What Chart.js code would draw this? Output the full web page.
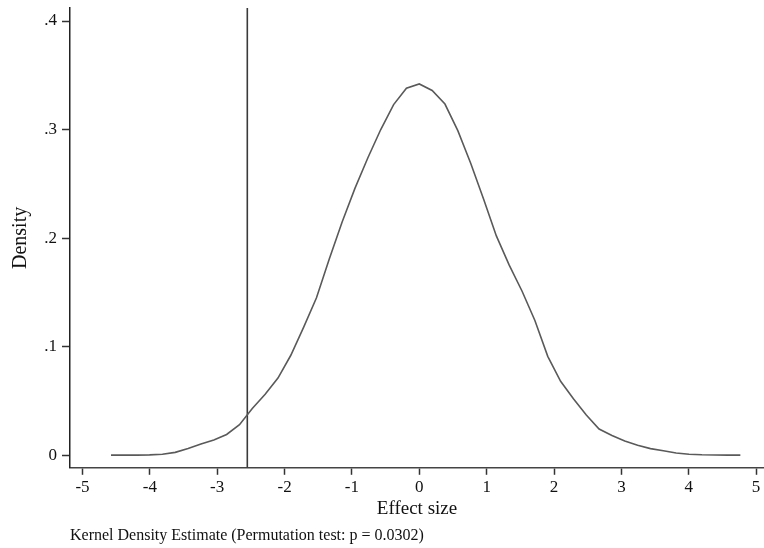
<!DOCTYPE html>
<html>
<head>
<meta charset="utf-8">
<script src="https://cdn.jsdelivr.net/npm/chart.js@4"></script>
<style>
  html, body { margin: 0; padding: 0; background: #fff; }
  #wrap { width: 764px; height: 548px; }
</style>
</head>
<body>
<div id="wrap"><canvas id="kdeChart"></canvas></div>
<script>
// grid of the kernel density estimate (effect size)
const effectSize = [
  -4.576, -4.385, -4.195, -4.004, -3.813, -3.623, -3.432, -3.241, -3.050, -2.860,
  -2.669, -2.479, -2.288, -2.098, -1.907, -1.716, -1.526, -1.335, -1.144, -0.954,
  -0.763, -0.572, -0.381, -0.191, 0.000, 0.191, 0.381, 0.572, 0.763, 0.954,
  1.144, 1.335, 1.526, 1.716, 1.907, 2.098, 2.288, 2.479, 2.669, 2.860,
  3.050, 3.241, 3.432, 3.623, 3.813, 4.004, 4.195, 4.385, 4.576, 4.766
];
const density = [
  0.0000, 0.0000, 0.0000, 0.0002, 0.0008, 0.0025, 0.0060, 0.0102, 0.0140, 0.0190,
  0.0280, 0.0430, 0.0560, 0.0710, 0.0920, 0.1180, 0.1450, 0.1810, 0.2150, 0.2460,
  0.2740, 0.3000, 0.3230, 0.3380, 0.3420, 0.3360, 0.3235, 0.2990, 0.2690, 0.2360,
  0.2020, 0.1750, 0.1510, 0.1240, 0.0910, 0.0680, 0.0520, 0.0370, 0.0240, 0.0180,
  0.0130, 0.0090, 0.0060, 0.0040, 0.0020, 0.0008, 0.0003, 0.0001, 0.0000, 0.0000
];
// observed effect (vertical line)
const observedEffect = -2.553;

const xTicks = [-5, -4, -3, -2, -1, 0, 1, 2, 3, 4, 5];
const yTicks = [0, 0.1, 0.2, 0.3, 0.4];
const xRange = [-5.185, 5.117];
const yRange = [-0.0117, 0.412];

const serif = "'Liberation Serif', 'DejaVu Serif', serif";

const kdePoints = effectSize.map(function(x, i) {
  return { x: x, y: density[i] };
});
const linePoints = [
  { x: observedEffect, y: yRange[0] },
  { x: observedEffect, y: yRange[1] }
];

function fmtY(v) {
  if (v === 0) return '0';
  return String(Math.round(v * 10) / 10).replace(/^0/, '');
}

const ctx = document.getElementById('kdeChart').getContext('2d');
const chart = new Chart(ctx, {
  type: 'scatter',
  data: {
    datasets: [{
      label: 'kde',
      data: kdePoints,
      showLine: true,
      borderColor: '#5a5a5a',
      borderWidth: 1.6,
      pointRadius: 0,
      tension: 0
    }, {
      label: 'observed',
      data: linePoints,
      showLine: true,
      borderColor: '#3a3a3a',
      borderWidth: 1.6,
      pointRadius: 0
    }]
  },
  options: {
    responsive: true,
    maintainAspectRatio: false,
    animation: false,
    layout: { padding: { top: 8, right: 0, left: 0, bottom: 0 } },
    plugins: {
      legend: { display: false },
      tooltip: { enabled: false },
      title: {
        display: true,
        text: 'Kernel Density Estimate (Permutation test: p = 0.0302)',
        position: 'bottom',
        align: 'start',
        fullSize: false,
        color: '#111',
        font: { family: serif, size: 16, weight: 'normal', lineHeight: 1.2 },
        padding: { top: 0, bottom: 3 }
      }
    },
    scales: {
      x: {
        type: 'linear',
        min: xRange[0],
        max: xRange[1],
        afterBuildTicks: function(scale) {
          scale.ticks = xTicks.map(function(v) { return { value: v }; });
        },
        afterFit: function(scale) {
          scale.height = 58;
          scale.paddingLeft = 0;
          scale.paddingRight = 0;
        },
        grid: { display: true, drawOnChartArea: false, drawTicks: true, tickLength: 7, tickColor: '#333', tickWidth: 1.5 },
        border: { display: true, color: '#444', width: 1.5 },
        ticks: {
          color: '#111',
          padding: 3,
          font: { family: serif, size: 17 },
          maxRotation: 0,
          callback: function(v) { return String(v); }
        },
        title: {
          display: true,
          text: 'Effect size',
          color: '#111',
          font: { family: serif, size: 19 },
          padding: { top: 0, bottom: 5 }
        }
      },
      y: {
        type: 'linear',
        min: yRange[0],
        max: yRange[1],
        afterBuildTicks: function(scale) {
          scale.ticks = yTicks.map(function(v) { return { value: v }; });
        },
        afterFit: function(scale) {
          scale.width = 70;
          scale.paddingTop = 0;
          scale.paddingBottom = 0;
        },
        grid: { display: true, drawOnChartArea: false, drawTicks: true, tickLength: 8, tickColor: '#333', tickWidth: 1.5 },
        border: { display: true, color: '#222', width: 1.5 },
        ticks: {
          color: '#111',
          padding: 5,
          font: { family: serif, size: 17 },
          callback: function(v) { return fmtY(v); }
        },
        title: {
          display: true,
          text: 'Density',
          color: '#111',
          font: { family: serif, size: 20 },
          padding: { top: 9, bottom: 0 }
        }
      }
    }
  }
});
</script>
</body>
</html>
